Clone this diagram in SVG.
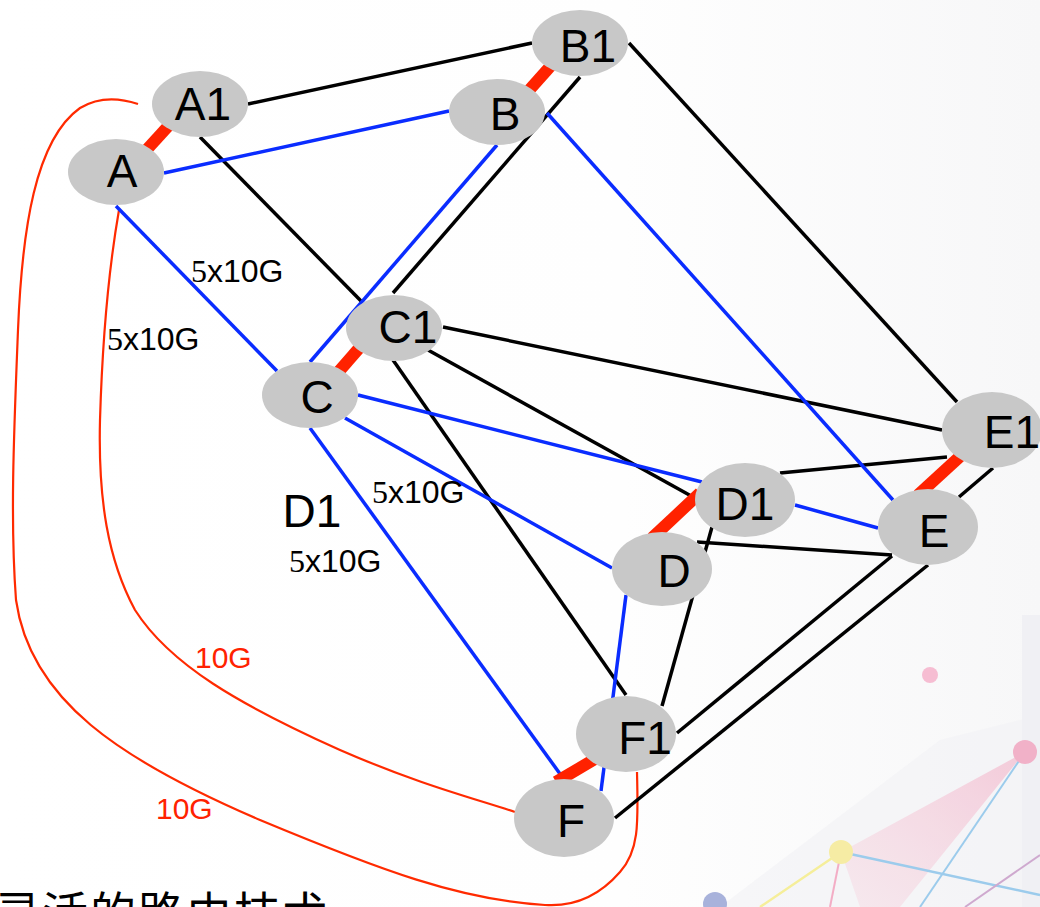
<svg xmlns="http://www.w3.org/2000/svg" width="1040" height="907" viewBox="0 0 1040 907">
<defs>
<style>
.bk{stroke:#000;stroke-width:3.5;fill:none}
.bl{stroke:#0a2cff;stroke-width:3.5;fill:none}
.rb{stroke:#ff2200;stroke-width:12;fill:none}
.rc{stroke:#ff2a00;stroke-width:2.2;fill:none}
.nd{fill:#c8c8c8}
.lb{font-family:"Liberation Sans",Arial,sans-serif;font-size:46px;fill:#000;text-anchor:middle}
.el{font-family:"Liberation Sans",Arial,sans-serif;font-size:32px;fill:#000}
.rl{font-family:"Liberation Sans",Arial,sans-serif;font-size:30px;fill:#ff2200}
</style>
<linearGradient id="bgg" x1="0" y1="0" x2="1" y2="0">
<stop offset="0" stop-color="#ffffff"/>
<stop offset="0.6" stop-color="#fefefe"/>
<stop offset="1" stop-color="#f7f7f8"/>
</linearGradient>
<linearGradient id="pk" x1="0" y1="1" x2="1" y2="0">
<stop offset="0" stop-color="#f7c9d8" stop-opacity="0.35"/>
<stop offset="1" stop-color="#f3a9c2" stop-opacity="0.65"/>
</linearGradient>
</defs>
<rect width="1040" height="907" fill="url(#bgg)"/>
<g id="background" opacity="0.85">
<polygon points="720,907 940,740 1040,715 1040,907" fill="#f1f1f5" opacity="0.6"/>
<rect x="1022" y="615" width="18" height="292" fill="#efeff4"/>
<polygon points="841,852 1025,752 900,907 860,907" fill="url(#pk)"/>
<line x1="841" y1="852" x2="760" y2="907" stroke="#f5ec8a" stroke-width="2.5"/>
<line x1="841" y1="852" x2="830" y2="907" stroke="#f2a0bc" stroke-width="2"/>
<line x1="841" y1="852" x2="1040" y2="895" stroke="#8cc4ea" stroke-width="2.5"/>
<line x1="1025" y1="752" x2="920" y2="907" stroke="#8cc4ea" stroke-width="2"/>
<line x1="1040" y1="855" x2="965" y2="907" stroke="#c89cc8" stroke-width="2"/>
<circle cx="930" cy="675" r="8" fill="#f6b3cc"/>
<circle cx="1025" cy="752" r="12" fill="#f0a5c0"/>
<circle cx="841" cy="852" r="12" fill="#f6ea96"/>
<circle cx="715" cy="904" r="12" fill="#9aa6d6"/>
</g>
<g id="connectors">
<path class="rc" d="M138,104 C120,98 100,96 80,108 C35,140 22,230 18,330 C14,430 10,520 16,600 C30,700 120,760 260,820 C380,870 460,900 545,905 C575,907 600,895 620,872 C640,850 638,820 637,772"/>
<path class="rc" d="M119,210 C112,250 103,320 100,420 C98,500 108,560 135,610 C170,665 240,705 340,750 C420,785 480,800 515,812"/>
<line class="bk" x1="248" y1="104" x2="532" y2="43"/>
<line class="bk" x1="200" y1="137" x2="362" y2="302"/>
<line class="bk" x1="580" y1="77" x2="393" y2="293"/>
<line class="bk" x1="629" y1="43" x2="957" y2="402"/>
<line class="bk" x1="443" y1="327" x2="942" y2="430"/>
<line class="bk" x1="428" y1="350" x2="693" y2="497"/>
<line class="bk" x1="393" y1="360" x2="626" y2="695"/>
<line class="bk" x1="780" y1="473" x2="947" y2="457"/>
<line class="bk" x1="712" y1="527" x2="662" y2="706"/>
<line class="bk" x1="697" y1="542" x2="892" y2="555"/>
<line class="bk" x1="892" y1="556" x2="677" y2="733"/>
<line class="bk" x1="928" y1="565" x2="615" y2="818"/>
<line class="bk" x1="993" y1="468" x2="959" y2="497"/>
<line class="bl" x1="164" y1="173" x2="449" y2="111"/>
<line class="bl" x1="116" y1="206" x2="277" y2="371"/>
<line class="bl" x1="497" y1="145" x2="310" y2="362"/>
<line class="bl" x1="547" y1="113" x2="893" y2="500"/>
<line class="bl" x1="358" y1="395" x2="702" y2="482"/>
<line class="bl" x1="345" y1="418" x2="612" y2="568"/>
<line class="bl" x1="310" y1="428" x2="563" y2="778"/>
<line class="bl" x1="626" y1="595" x2="601" y2="791"/>
<line class="bl" x1="795" y1="505" x2="878" y2="528"/>
<line class="rb" x1="140" y1="157" x2="172" y2="122"/>
<line class="rb" x1="523" y1="97" x2="556" y2="60"/>
<line class="rb" x1="334" y1="377" x2="368" y2="338"/>
<line class="rb" x1="652" y1="538" x2="700" y2="493"/>
<line class="rb" x1="918" y1="495" x2="966" y2="451"/>
<line class="rb" x1="556" y1="782" x2="600" y2="756"/>
</g>
<g id="node-A1"><ellipse class="nd" cx="200" cy="104" rx="48" ry="33"/><text class="lb" x="203" y="120">A1</text></g>
<g id="node-A"><ellipse class="nd" cx="116" cy="172" rx="48" ry="33"/><text class="lb" x="122" y="187">A</text></g>
<g id="node-B1"><ellipse class="nd" cx="580" cy="43" rx="48" ry="33"/><text class="lb" x="588" y="62">B1</text></g>
<g id="node-B"><ellipse class="nd" cx="497" cy="112" rx="48" ry="33"/><text class="lb" x="505" y="130">B</text></g>
<g id="node-C1"><ellipse class="nd" cx="394" cy="328" rx="48" ry="33"/><text class="lb" x="408" y="343">C1</text></g>
<g id="node-C"><ellipse class="nd" cx="310" cy="395" rx="48" ry="33"/><text class="lb" x="317" y="413">C</text></g>
<g id="node-D1"><ellipse class="nd" cx="745" cy="500" rx="50" ry="37"/><text class="lb" x="745" y="520">D1</text></g>
<g id="node-D"><ellipse class="nd" cx="662" cy="569" rx="50" ry="37"/><text class="lb" x="674" y="587">D</text></g>
<g id="node-E1"><ellipse class="nd" cx="992" cy="430" rx="50" ry="38"/><text class="lb" x="1012" y="448">E1</text></g>
<g id="node-E"><ellipse class="nd" cx="928" cy="527" rx="50" ry="38"/><text class="lb" x="934" y="547">E</text></g>
<g id="node-F1"><ellipse class="nd" cx="626" cy="734" rx="50" ry="38"/><text class="lb" x="645" y="754">F1</text></g>
<g id="node-F"><ellipse class="nd" cx="564" cy="818" rx="50" ry="39"/><text class="lb" x="571" y="837">F</text></g>
<g id="labels">
<text class="lb" x="312" y="527">D1</text>
<text class="el" x="191" y="282"><tspan font-family="Liberation Serif">5</tspan>x10G</text>
<text class="el" x="107" y="350"><tspan font-family="Liberation Serif">5</tspan>x10G</text>
<text class="el" x="372" y="503"><tspan font-family="Liberation Serif">5</tspan>x10G</text>
<text class="el" x="289" y="572"><tspan font-family="Liberation Serif">5</tspan>x10G</text>
<text class="rl" x="195" y="668">10G</text>
<text class="rl" x="156" y="819">10G</text>
<text x="-6" y="930" font-family="'Noto Sans CJK SC',sans-serif" font-size="46" fill="#000" letter-spacing="2">灵活的路由技术</text>
</g>
</svg>
